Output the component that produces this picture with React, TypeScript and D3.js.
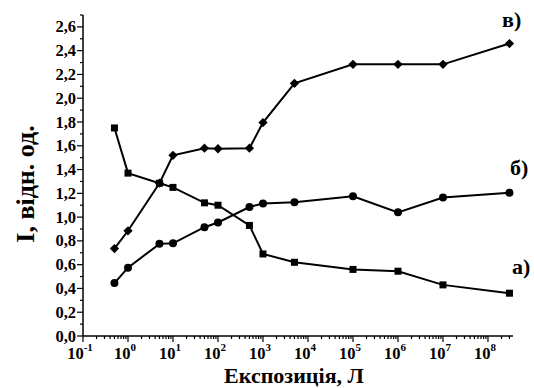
import React, { useEffect, useRef } from 'react';
import * as d3 from 'd3';

const exposure = [0.5, 1, 5, 10, 50, 100, 500, 1000, 5000, 1e5, 1e6, 1e7, 3e8];
const seriesA = [1.75, 1.37, 1.285, 1.25, 1.12, 1.1, 0.93, 0.69, 0.62, 0.56, 0.545, 0.43, 0.36];
const seriesB = [0.445, 0.575, 0.775, 0.78, 0.915, 0.955, 1.085, 1.115, 1.125, 1.175, 1.04, 1.165, 1.205];
const seriesV = [0.735, 0.885, 1.285, 1.52, 1.58, 1.575, 1.58, 1.795, 2.125, 2.285, 2.285, 2.285, 2.46];
const yTicks = [0, 0.2, 0.4, 0.6, 0.8, 1.0, 1.2, 1.4, 1.6, 1.8, 2.0, 2.2, 2.4, 2.6];
const xTickPowers = [-1, 0, 1, 2, 3, 4, 5, 6, 7, 8];

const FONT = "'Liberation Serif', 'Times New Roman', Times, 'DejaVu Serif', serif";

const App = () => {
  const svgRef = useRef(null);

  useEffect(() => {
    const svg = d3.select(svgRef.current);
    svg.selectAll('*').remove();

    const left = 83, right = 513, top = 15, bottom = 336;

    const x = d3.scaleLog().domain([0.1, Math.pow(10, 8.556)]).range([left, right]);
    const y = d3.scaleLinear().domain([0, 2.7]).range([bottom, top]);

    const txt = (sel, size) => sel
      .attr('font-family', FONT).attr('font-weight', 'bold').attr('font-size', size);

    // axis lines
    svg.append('line').attr('x1', left).attr('x2', left).attr('y1', top).attr('y2', bottom)
      .attr('stroke', '#000').attr('stroke-width', 1.5);
    svg.append('line').attr('x1', left).attr('x2', right).attr('y1', bottom).attr('y2', bottom)
      .attr('stroke', '#000').attr('stroke-width', 1.5);

    // y ticks: major every 0.2, minor every 0.1
    d3.range(0, 28).forEach(i => {
      const v = i / 10;
      const major = i % 2 === 0;
      svg.append('line')
        .attr('x1', left).attr('x2', left - (major ? 6 : 3))
        .attr('y1', y(v)).attr('y2', y(v))
        .attr('stroke', '#000').attr('stroke-width', 1.2);
    });
    txt(svg.append('g').selectAll('text').data(yTicks).enter().append('text')
      .attr('x', left - 7).attr('y', d => y(d) + 5.5)
      .attr('text-anchor', 'end'), 16.5)
      .text(d => d.toFixed(1).replace('.', ','));

    // x ticks: decades + minor 2..9
    for (let p = -1; p <= 8; p++) {
      for (let m = 1; m <= 9; m++) {
        const v = m * Math.pow(10, p);
        if (v > x.domain()[1]) break;
        const major = m === 1;
        svg.append('line')
          .attr('x1', x(v)).attr('x2', x(v))
          .attr('y1', bottom).attr('y2', bottom + (major ? 6 : 3))
          .attr('stroke', '#000').attr('stroke-width', 1.2);
      }
    }
    const xl = txt(svg.append('g').selectAll('text').data(xTickPowers).enter().append('text')
      .attr('x', d => x(Math.pow(10, d)) - 3).attr('y', 359)
      .attr('text-anchor', 'middle'), 16.5);
    xl.append('tspan').text('10');
    xl.append('tspan').attr('dy', -8).attr('font-size', 11).text(d => String(d));

    // axis titles
    txt(svg.append('text')
      .attr('x', 294).attr('y', 383)
      .attr('text-anchor', 'middle'), 22)
      .text('Експозиція, Л');
    txt(svg.append('text')
      .attr('transform', `translate(34, 184) rotate(-90)`)
      .attr('text-anchor', 'middle'), 26)
      .text('I, відн. од.');

    const line = d3.line().x(d => x(d[0])).y(d => y(d[1]));
    const pts = vals => exposure.map((e, i) => [e, vals[i]]);

    [seriesA, seriesB, seriesV].forEach(s => {
      svg.append('path').attr('d', line(pts(s)))
        .attr('fill', 'none').attr('stroke', '#000').attr('stroke-width', 2);
    });

    // markers
    svg.append('g').selectAll('rect').data(pts(seriesA)).enter().append('rect')
      .attr('x', d => x(d[0]) - 3.5).attr('y', d => y(d[1]) - 3.5)
      .attr('width', 7).attr('height', 7).attr('fill', '#000');
    svg.append('g').selectAll('circle').data(pts(seriesB)).enter().append('circle')
      .attr('cx', d => x(d[0])).attr('cy', d => y(d[1])).attr('r', 4).attr('fill', '#000');
    svg.append('g').selectAll('path').data(pts(seriesV)).enter().append('path')
      .attr('d', d3.symbol().type(d3.symbolDiamond2).size(55))
      .attr('transform', d => `translate(${x(d[0])}, ${y(d[1])})`).attr('fill', '#000');

    // series labels
    const labels = [['в)', 502, 27], ['б)', 510, 175], ['а)', 512, 274]];
    txt(svg.append('g').selectAll('text').data(labels).enter().append('text')
      .attr('x', d => d[1]).attr('y', d => d[2]), 22)
      .text(d => d[0]);
  }, []);

  return (
    <svg ref={svgRef} width={534} height={388}
      style={{ position: 'absolute', left: 0, top: 0, background: '#fff' }} />
  );
};

export default App;
